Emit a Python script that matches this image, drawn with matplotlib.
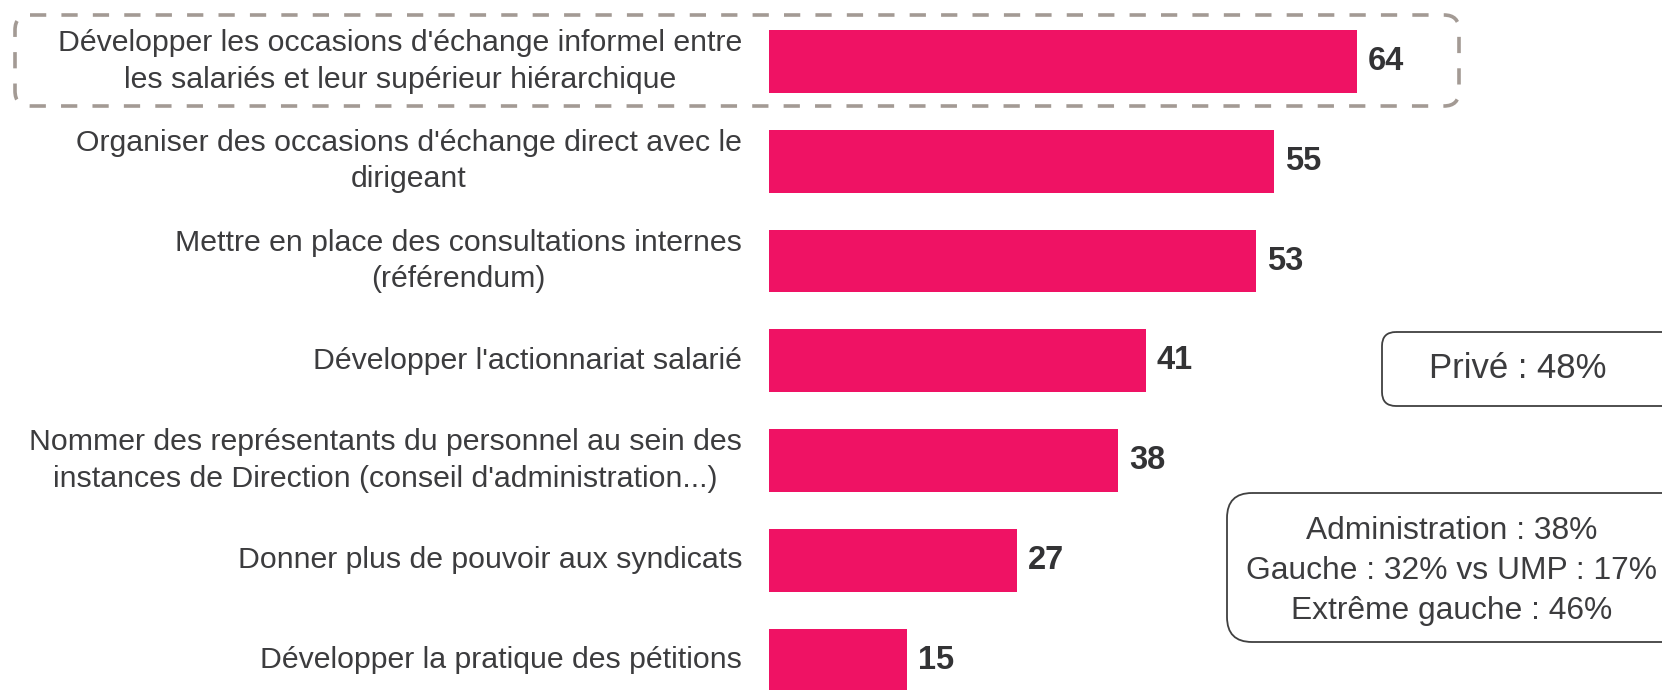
import numpy as np
import matplotlib
matplotlib.use("Agg")
import matplotlib.pyplot as plt
from matplotlib.patches import FancyBboxPatch
from matplotlib.transforms import blended_transform_factory

plt.rcParams['font.family'] = ['Liberation Sans', 'DejaVu Sans']

# data
labels = [
    "Développer les occasions d'échange informel entre\nles salariés et leur supérieur hiérarchique",
    "Organiser des occasions d'échange direct avec le\ndirigeant",
    "Mettre en place des consultations internes\n(référendum)",
    "Développer l'actionnariat salarié",
    "Nommer des représentants du personnel au sein des\ninstances de Direction (conseil d'administration...)",
    "Donner plus de pouvoir aux syndicats",
    "Développer la pratique des pétitions",
]
values = [64, 55, 53, 41, 38, 27, 15]
note_prive = "Privé : 48%"
note_admin = "Administration : 38%\nGauche : 32% vs UMP : 17%\nExtrême gauche : 46%"

W, H = 1662, 690
bar_color = "#EF1264"
text_color = "#3c3c3e"

fig = plt.figure(figsize=(W / 100, H / 100), dpi=100)

# bar axes: left edge at x=769px, 9.19 px per unit
left_px = 769
px_per_unit = 9.19
ax = fig.add_axes([left_px / W, 0, (W - left_px) / W, 1])
ax.set_xlim(0, (W - left_px) / px_per_unit)
ax.set_ylim(6.30, -0.617)
ax.axis('off')

ypos = np.arange(len(values))
ax.barh(ypos, values, height=0.63, color=bar_color)

for y, v in zip(ypos, values):
    ax.text(v + 1.2, y, str(v), ha='left', va='center', fontsize=23.5,
            fontweight='bold', color="#333335")

trans = blended_transform_factory(fig.transFigure, ax.transData)
for y, lab in zip(ypos, labels):
    ax.text(742 / W, y, lab, transform=trans, ha='right', va='center',
            multialignment='center', fontsize=21.8, color=text_color,
            linespacing=1.38, clip_on=False)

# overlay in pixel coordinates for the boxes
ov = fig.add_axes([0, 0, 1, 1], facecolor='none')
ov.set_xlim(0, W)
ov.set_ylim(H, 0)
ov.axis('off')

dashed = FancyBboxPatch((15, 15), 1444, 91, boxstyle="round,pad=0,rounding_size=15",
                        fill=False, edgecolor="#A39A94", linewidth=2.6,
                        linestyle=(0, (4.5, 4.2)))
ov.add_patch(dashed)

box2 = FancyBboxPatch((1382, 332), 400, 74, boxstyle="round,pad=0,rounding_size=14",
                      fill=False, edgecolor="#404040", linewidth=1.3)
ov.add_patch(box2)
ov.text(1518, 369, note_prive, ha='center', va='center', fontsize=25, color=text_color)

box3 = FancyBboxPatch((1227, 493), 500, 149, boxstyle="round,pad=0,rounding_size=25",
                      fill=False, edgecolor="#404040", linewidth=1.3)
ov.add_patch(box3)
ov.text(1452, 571, note_admin, ha='center', va='center', fontsize=22.9,
        color=text_color, linespacing=1.42)

fig.savefig("out.png", dpi=100)
